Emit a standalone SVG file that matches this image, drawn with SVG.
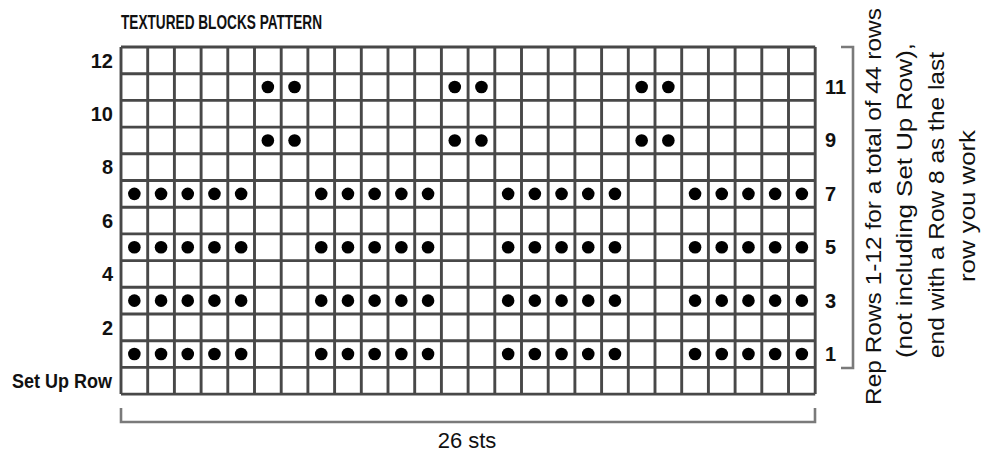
<svg xmlns="http://www.w3.org/2000/svg" xmlns:xlink="http://www.w3.org/1999/xlink" width="987" height="455" viewBox="0 0 987 455">
  <style>
    .grid { fill: none; stroke: #484848; stroke-width: 2.9; }
    .frame { fill: none; stroke: #7a7a7a; stroke-width: 2.6; }
    .dot { fill: #000; }
    .lbl { font-family: "Liberation Sans", Arial, sans-serif; font-weight: bold; font-size: 20px; fill: #111; }
    .note { font-family: "Liberation Sans", Arial, sans-serif; font-size: 22px; fill: #111; }
  </style>
  <defs>
    <g id="blockrow">
      <circle class="dot" cx="134.35" cy="0" r="6.3"/>
      <circle class="dot" cx="161.05" cy="0" r="6.3"/>
      <circle class="dot" cx="187.75" cy="0" r="6.3"/>
      <circle class="dot" cx="214.45" cy="0" r="6.3"/>
      <circle class="dot" cx="241.15" cy="0" r="6.3"/>
      <circle class="dot" cx="321.25" cy="0" r="6.3"/>
      <circle class="dot" cx="347.95" cy="0" r="6.3"/>
      <circle class="dot" cx="374.65" cy="0" r="6.3"/>
      <circle class="dot" cx="401.35" cy="0" r="6.3"/>
      <circle class="dot" cx="428.05" cy="0" r="6.3"/>
      <circle class="dot" cx="508.15" cy="0" r="6.3"/>
      <circle class="dot" cx="534.85" cy="0" r="6.3"/>
      <circle class="dot" cx="561.55" cy="0" r="6.3"/>
      <circle class="dot" cx="588.25" cy="0" r="6.3"/>
      <circle class="dot" cx="614.95" cy="0" r="6.3"/>
      <circle class="dot" cx="695.05" cy="0" r="6.3"/>
      <circle class="dot" cx="721.75" cy="0" r="6.3"/>
      <circle class="dot" cx="748.45" cy="0" r="6.3"/>
      <circle class="dot" cx="775.15" cy="0" r="6.3"/>
      <circle class="dot" cx="801.85" cy="0" r="6.3"/>
    </g>
    <g id="pairrow">
      <circle class="dot" cx="267.85" cy="0" r="6.3"/>
      <circle class="dot" cx="294.55" cy="0" r="6.3"/>
      <circle class="dot" cx="454.75" cy="0" r="6.3"/>
      <circle class="dot" cx="481.45" cy="0" r="6.3"/>
      <circle class="dot" cx="641.65" cy="0" r="6.3"/>
      <circle class="dot" cx="668.35" cy="0" r="6.3"/>
    </g>
  </defs>
  <rect width="987" height="455" fill="#fff"/>

  <g id="title">
    <text class="lbl" x="121" y="28.5" textLength="201" lengthAdjust="spacingAndGlyphs">TEXTURED BLOCKS PATTERN</text>
  </g>

  <g id="grid">
    <path class="grid" d="M121,47V394.1M147.7,47V394.1M174.4,47V394.1M201.1,47V394.1M227.8,47V394.1M254.5,47V394.1M281.2,47V394.1M307.9,47V394.1M334.6,47V394.1M361.3,47V394.1M388,47V394.1M414.7,47V394.1M441.4,47V394.1M468.1,47V394.1M494.8,47V394.1M521.5,47V394.1M548.2,47V394.1M574.9,47V394.1M601.6,47V394.1M628.3,47V394.1M655,47V394.1M681.7,47V394.1M708.4,47V394.1M735.1,47V394.1M761.8,47V394.1M788.5,47V394.1M815.2,47V394.1
      M121,47H815.2M121,73.7H815.2M121,100.4H815.2M121,127.1H815.2M121,153.8H815.2M121,180.5H815.2M121,207.2H815.2M121,233.9H815.2M121,260.6H815.2M121,287.3H815.2M121,314H815.2M121,340.7H815.2M121,367.4H815.2M121,394.1H815.2"/>
  </g>

  <g id="stitches">
    <use xlink:href="#pairrow" transform="translate(0,87.05)"/>
    <use xlink:href="#pairrow" transform="translate(0,140.45)"/>
    <use xlink:href="#blockrow" transform="translate(0,193.85)"/>
    <use xlink:href="#blockrow" transform="translate(0,247.25)"/>
    <use xlink:href="#blockrow" transform="translate(0,300.65)"/>
    <use xlink:href="#blockrow" transform="translate(0,354.05)"/>
  </g>

  <g id="row-labels-left" text-anchor="end">
    <text class="lbl" x="113" y="67.5">12</text>
    <text class="lbl" x="113" y="120.9">10</text>
    <text class="lbl" x="113" y="174.3">8</text>
    <text class="lbl" x="113" y="227.7">6</text>
    <text class="lbl" x="113" y="281.1">4</text>
    <text class="lbl" x="113" y="334.5">2</text>
    <text class="lbl" x="112" y="387.5" textLength="100" lengthAdjust="spacingAndGlyphs">Set Up Row</text>
  </g>

  <g id="row-labels-right">
    <text class="lbl" x="825" y="94">11</text>
    <text class="lbl" x="825" y="147.4">9</text>
    <text class="lbl" x="825" y="200.8">7</text>
    <text class="lbl" x="825" y="254.2">5</text>
    <text class="lbl" x="825" y="307.6">3</text>
    <text class="lbl" x="825" y="361">1</text>
  </g>

  <g id="connectors">
    <path class="frame" d="M121,408V422H815V408"/>
    <path class="frame" d="M841,47H853V368H841"/>
  </g>

  <g id="width-label">
    <text class="note" x="467" y="448" text-anchor="middle">26 sts</text>
  </g>

  <g id="repeat-note" text-anchor="middle">
    <text class="note" transform="translate(881,206.5) rotate(-90)" textLength="397" lengthAdjust="spacingAndGlyphs">Rep Rows 1-12 for a total of 44 rows</text>
    <text class="note" transform="translate(912,200.5) rotate(-90)" textLength="315" lengthAdjust="spacingAndGlyphs">(not including Set Up Row),</text>
    <text class="note" transform="translate(944,205) rotate(-90)" textLength="306" lengthAdjust="spacingAndGlyphs">end with a Row 8 as the last</text>
    <text class="note" transform="translate(975,206) rotate(-90)" textLength="152" lengthAdjust="spacingAndGlyphs">row you work</text>
  </g>
</svg>
